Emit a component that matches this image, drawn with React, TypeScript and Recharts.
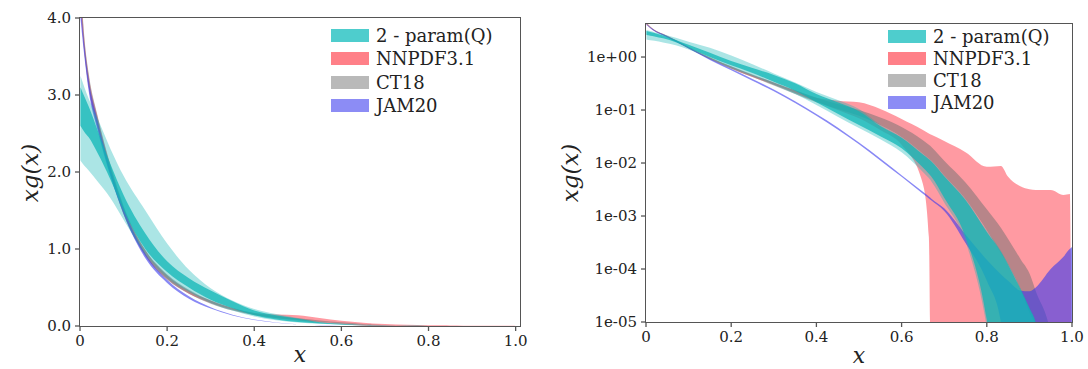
import React from 'react';
import { ComposedChart, Area, XAxis, YAxis } from 'recharts';

// x grid shared by every band
const X = [
  0.001, 0.01, 0.02, 0.04, 0.07, 0.1, 0.15, 0.2, 0.25, 0.3, 0.35, 0.4, 0.45, 0.5, 0.55, 0.6,
  0.65, 0.664, 0.67, 0.7, 0.75, 0.8, 0.833, 0.85, 0.88, 0.9, 0.915, 0.95, 0.98, 0.995, 1.0,
];
const Z = 1e-7; // below the plotted range

// 2-param(Q): outer (light) and inner (dark) bands
const Q_OUT_LO = [2.15, 2.08, 2.02, 1.88, 1.66, 1.38, 0.93, 0.62, 0.44, 0.3, 0.2, 0.125, 0.075, 0.046, 0.028, 0.016,
  0.0068, 0.0052, 0.0045, 0.0018, 3.3e-4, 8e-6, Z, Z, Z, Z, Z, Z, Z, Z, Z];
const Q_OUT_HI = [3.25, 3.1, 2.95, 2.7, 2.3, 1.95, 1.5, 1.07, 0.73, 0.49, 0.33, 0.22, 0.155, 0.105, 0.053, 0.031,
  0.015, 0.012, 0.011, 0.0058, 0.0021, 5.3e-4, 2.2e-4, 1.25e-4, 4.2e-5, 1.9e-5, 1e-5, Z, Z, Z, Z];
const Q_IN_LO = [2.6, 2.52, 2.45, 2.25, 1.9, 1.5, 1.0, 0.7, 0.5, 0.34, 0.23, 0.14, 0.085, 0.052, 0.032, 0.019,
  0.0082, 0.0063, 0.0055, 0.0022, 4e-4, 1.1e-5, Z, Z, Z, Z, Z, Z, Z, Z, Z];
const Q_IN_HI = [3.1, 2.98, 2.85, 2.55, 2.1, 1.7, 1.2, 0.84, 0.62, 0.46, 0.32, 0.2, 0.14, 0.095, 0.05, 0.03,
  0.0145, 0.0118, 0.0107, 0.0056, 0.002, 5e-4, 2.1e-4, 1.2e-4, 4e-5, 1.8e-5, 9.5e-6, Z, Z, Z, Z];

// NNPDF3.1
const NN_LO = [4.1, 3.55, 3.1, 2.6, 1.97, 1.46, 0.92, 0.61, 0.42, 0.3, 0.21, 0.145, 0.1, 0.07, 0.042, 0.022,
  0.004, 4e-4, Z, Z, Z, Z, Z, Z, Z, Z, Z, Z, Z, Z, Z];
const NN_HI = [4.45, 3.72, 3.25, 2.72, 2.07, 1.55, 0.98, 0.66, 0.46, 0.33, 0.235, 0.17, 0.15, 0.14, 0.105, 0.068,
  0.042, 0.036, 0.034, 0.026, 0.016, 0.0085, 0.0088, 0.0055, 0.0036, 0.0032, 0.0031, 0.0031, 0.0025, 0.0026, Z];

// CT18
const CT_LO = [4.2, 3.55, 3.1, 2.58, 1.96, 1.45, 0.91, 0.6, 0.42, 0.29, 0.2, 0.14, 0.105, 0.078, 0.052, 0.031,
  0.015, 0.012, 0.011, 0.0058, 0.0021, 5.4e-4, 2e-4, 1.2e-4, 3.9e-5, 1.5e-5, 8e-6, Z, Z, Z, Z];
const CT_HI = [4.5, 3.75, 3.28, 2.74, 2.09, 1.56, 0.99, 0.67, 0.47, 0.33, 0.235, 0.17, 0.13, 0.1, 0.072, 0.048,
  0.027, 0.022, 0.02, 0.011, 0.0043, 0.00134, 6e-4, 3.7e-4, 1.5e-4, 8.3e-5, 3.8e-5, 6e-6, Z, Z, Z];

// JAM20
const JAM_LO = [4.0, 3.5, 3.05, 2.55, 1.94, 1.45, 0.88, 0.56, 0.355, 0.226, 0.135, 0.078, 0.043, 0.0225, 0.0112, 0.0055,
  0.00264, 0.00215, 0.00196, 0.00125, 3.1e-4, 6e-5, 1e-5, Z, Z, Z, Z, Z, Z, Z, Z];
const JAM_HI = [4.2, 3.65, 3.2, 2.68, 2.04, 1.53, 0.94, 0.6, 0.385, 0.244, 0.147, 0.084, 0.047, 0.0243, 0.0122, 0.0059,
  0.00286, 0.00233, 0.00212, 0.0014, 4.5e-4, 1.5e-4, 8e-5, 6e-5, 3.9e-5, 3.8e-5, 4.5e-5, 1e-4, 1.7e-4, 2.4e-4, 2.6e-4];

const X_TICKS = [0, 0.2, 0.4, 0.6, 0.8, 1.0];
const LIN_TICKS = [0, 1, 2, 3, 4];
const LOG_TICKS = [1e-5, 1e-4, 1e-3, 1e-2, 1e-1, 1];
const LOG_MINOR = [-5, -4, -3, -2, -1, 0].flatMap((e) => [2, 3, 4, 5, 6, 7, 8, 9].map((m) => m * Math.pow(10, e))).filter((v) => v < 4.2);

const LEGEND = [
  { name: '2 - param(Q)', color: '#4ECDCD' },
  { name: 'NNPDF3.1', color: '#FF8088' },
  { name: 'CT18', color: '#B9B9B9' },
  { name: 'JAM20', color: '#8C8CF5' },
];

const rows = X.map((x, i) => ({
  x,
  qo: [Q_OUT_LO[i], Q_OUT_HI[i]],
  qi: [Q_IN_LO[i], Q_IN_HI[i]],
  nn: [NN_LO[i], NN_HI[i]],
  ct: [CT_LO[i], CT_HI[i]],
  jam: [JAM_LO[i], JAM_HI[i]],
}));

const FONT = '"DejaVu Serif", serif';
const tickStyle = { fill: '#222', fontSize: 15, fontFamily: FONT };
const tickLine = { stroke: '#555', strokeWidth: 1.3 };

const fmtX = (v: number) => (v === 0 ? '0' : v.toFixed(1));
const fmtLog = (v: number) => {
  const e = Math.round(Math.log10(v));
  return `1e${e < 0 ? '-' : '+'}${String(Math.abs(e)).padStart(2, '0')}`;
};

function Bands() {
  return [
    <Area key="nn" dataKey="nn" type="monotone" stroke="none" fill="#FF6F7A" fillOpacity={0.7} isAnimationActive={false} />,
    <Area key="ct" dataKey="ct" type="monotone" stroke="none" fill="#707070" fillOpacity={0.5} isAnimationActive={false} />,
    <Area key="jam" dataKey="jam" type="monotone" stroke="none" fill="#3939EE" fillOpacity={0.6} isAnimationActive={false} />,
    <Area key="qo" dataKey="qo" type="monotone" stroke="none" fill="#0FB5B5" fillOpacity={0.35} isAnimationActive={false} />,
    <Area key="qi" dataKey="qi" type="monotone" stroke="none" fill="#0FB5B5" fillOpacity={0.75} isAnimationActive={false} />,
  ];
}

function Legend({ left, top, gap }: { left: number; top: number; gap: number }) {
  return (
    <>
      {LEGEND.map((l, i) => (
        <div key={l.name} style={{ position: 'absolute', left, top: top + i * gap - 11, height: 22, display: 'flex', alignItems: 'center' }}>
          <div style={{ width: 38, height: 13, background: l.color }} />
          <span style={{ marginLeft: 7, fontFamily: FONT, fontSize: 18, color: '#222', whiteSpace: 'nowrap' }}>{l.name}</span>
        </div>
      ))}
    </>
  );
}

const Frame = ({ left, top, width, height }: { left: number; top: number; width: number; height: number }) => (
  <div style={{ position: 'absolute', left: left - 0.8, top: top - 0.8, width, height, border: '1.6px solid #555', pointerEvents: 'none' }} />
);

const YLabel = ({ cx, cy }: { cx: number; cy: number }) => (
  <div style={{ position: 'absolute', left: cx - 40, top: cy - 13, width: 80, height: 26, textAlign: 'center', transform: 'rotate(-90deg)', fontFamily: FONT, fontStyle: 'italic', fontSize: 23, lineHeight: '26px', color: '#222' }}>
    xg(x)
  </div>
);

const XLabel = ({ cx, cy }: { cx: number; cy: number }) => (
  <div style={{ position: 'absolute', left: cx - 15, top: cy - 11, width: 30, height: 20, textAlign: 'center', fontFamily: FONT, fontStyle: 'italic', fontSize: 22, lineHeight: '20px', color: '#222' }}>
    x
  </div>
);

export default function App() {
  return (
    <div style={{ position: 'absolute', left: 0, top: 0, width: 1088, height: 369, background: '#fff', overflow: 'hidden' }}>
      <div style={{ position: 'absolute', left: 0, top: 0 }}>
        <ComposedChart width={540} height={369} data={rows} margin={{ top: 18, right: 20, bottom: 0, left: 0 }}>
          <XAxis dataKey="x" type="number" domain={[0, 1.01]} ticks={X_TICKS} tickFormatter={fmtX} allowDataOverflow
            height={43} axisLine={false} tickLine={tickLine} tickSize={5} tickMargin={4} tick={tickStyle} />
          <YAxis type="number" domain={[0, 4]} ticks={LIN_TICKS} tickFormatter={(v: number) => v.toFixed(1)} allowDataOverflow
            width={80} axisLine={false} tickLine={tickLine} tickSize={5} tickMargin={4} tick={tickStyle} />
          {Bands()}
        </ComposedChart>
      </div>
      <Frame left={80} top={18} width={440} height={308} />
      <YLabel cx={30} cy={173} />
      <XLabel cx={300} cy={356} />
      <Legend left={331} top={35} gap={23.5} />

      <div style={{ position: 'absolute', left: 545, top: 0 }}>
        <ComposedChart width={543} height={369} data={rows} margin={{ top: 24, right: 16, bottom: 0, left: 0 }}>
          <XAxis dataKey="x" type="number" domain={[0, 1.0]} ticks={X_TICKS} tickFormatter={fmtX} allowDataOverflow
            height={47} axisLine={false} tickLine={tickLine} tickSize={5} tickMargin={4} tick={tickStyle} />
          <YAxis yAxisId="minor" scale="log" type="number" domain={[1e-5, 4.2]} ticks={LOG_MINOR} tickFormatter={() => ''}
            allowDataOverflow width={0} axisLine={false} tickLine={{ stroke: '#555', strokeWidth: 1 }} tickSize={3} />
          <YAxis scale="log" type="number" domain={[1e-5, 4.2]} ticks={LOG_TICKS} tickFormatter={fmtLog} allowDataOverflow
            width={101} axisLine={false} tickLine={tickLine} tickSize={5} tickMargin={4} tick={tickStyle} />
          {Bands()}
        </ComposedChart>
      </div>
      <Frame left={646} top={24} width={426} height={298} />
      <YLabel cx={570} cy={173} />
      <XLabel cx={859} cy={357} />
      <Legend left={888} top={36} gap={22.3} />
    </div>
  );
}
